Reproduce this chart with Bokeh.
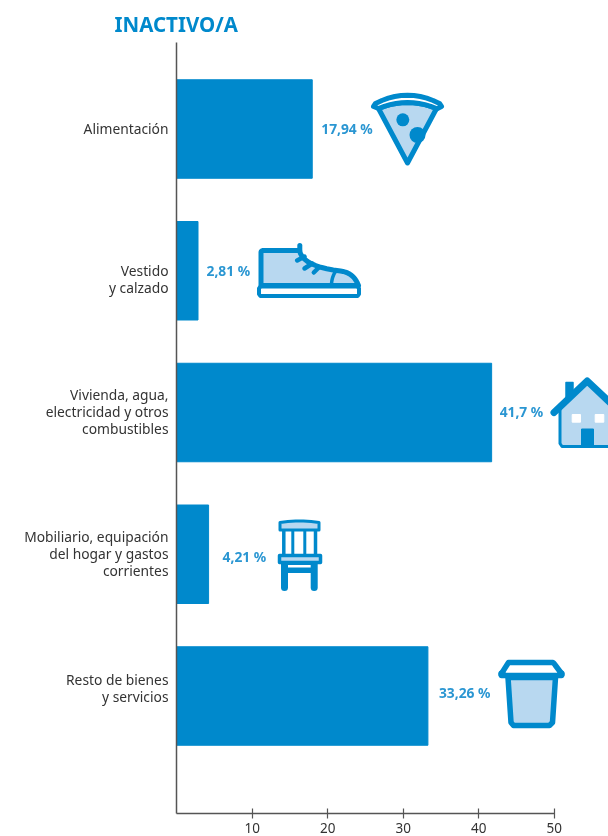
from bokeh.plotting import figure
from bokeh.models import Range1d, FixedTicker, ColumnDataSource
from bokeh.embed import file_html
from bokeh.resources import INLINE
from bokeh.core.properties import value

title = "INACTIVO/A"
categories = ["Alimentación", "Vestido\ny calzado", "Vivienda, agua,\nelectricidad y otros\ncombustibles",
              "Mobiliario, equipación\ndel hogar y gastos\ncorrientes", "Resto de bienes\ny servicios"]
values = [17.94, 2.81, 41.7, 4.21, 33.26]
value_labels = ["17,94 %", "2,81 %", "41,7 %", "4,21 %", "33,26 %"]
label_gaps = [9, 8.5, 8, 14, 11]
label_shift = [-1, 0, -1, 2.5, -3.5]
category_label_px = [128, 278.5, 411, 553, 687.5]
x_ticks = [10, 20, 30, 40, 50]

BLUE = "#0089cc"; TEXTBLUE = "#2a96d2"; LIGHT = "#b8d8f0"; GREY = "#555555"; DARK = "#333333"
FONT = "Noto Sans"

PX_PER_X = 7.55; X0 = 176.3; PX_PER_Y = 141.75; Y0 = 128.5
TOP = 42; BOTTOM = 813
def X(px): return (px - X0) / PX_PER_X
def Y(py): return (py - Y0) / PX_PER_Y

p = figure(width=608, height=836, output_backend="svg", toolbar_location=None,
           x_range=Range1d(X(176), X(608)), y_range=Range1d(Y(BOTTOM), Y(TOP)),
           min_border_left=176, min_border_right=0, min_border_top=TOP, min_border_bottom=836 - BOTTOM,
           outline_line_color=None, background_fill_color="white", border_fill_color="white")
p.styles = {"position": "fixed", "left": "0", "top": "0"}
p.grid.visible = False
p.title.text = title
p.title.align = "left"
p.title.offset = 114 - 176
p.title.standoff = 9
p.title.text_font = FONT
p.title.text_font_style = "bold"
p.title.text_font_size = "20.5px"
p.title.text_color = BLUE

src = ColumnDataSource(dict(y=list(range(5)), v=values, t=value_labels, g=label_gaps, s=label_shift))
p.hbar(y="y", right="v", left=0, height=98.5 / PX_PER_Y, color=BLUE, source=src)
p.text(x="v", y="y", text="t", x_offset="g", y_offset="s", text_font=value(FONT), text_font_style="bold",
       text_font_size="13.8px", text_color=TEXTBLUE, text_baseline="middle", source=src)

ax = p.xaxis[0]
ax.ticker = FixedTicker(ticks=x_ticks)
ax.bounds = (0, 50)
ax.axis_line_color = GREY; ax.axis_line_width = 1.5
ax.major_tick_line_color = GREY; ax.major_tick_line_width = 1.2
ax.major_tick_in = 5; ax.major_tick_out = 5; ax.minor_tick_line_color = None
ax.major_label_standoff = 4
ax.major_label_text_font = FONT; ax.major_label_text_font_size = "13.5px"; ax.major_label_text_color = DARK

cat_ticks = [round(Y(v), 4) for v in category_label_px]
ay = p.yaxis[0]
ay.ticker = FixedTicker(ticks=cat_ticks)
ay.major_label_overrides = {t: c for t, c in zip(cat_ticks, categories)}
ay.axis_line_color = GREY; ay.axis_line_width = 1.5
ay.major_tick_line_color = None; ay.minor_tick_line_color = None
ay.major_tick_in = 0; ay.major_tick_out = 0
ay.major_label_standoff = 8
ay.major_label_orientation = "horizontal"
ay.major_label_text_font = FONT; ay.major_label_text_font_size = "13.8px"; ay.major_label_text_color = DARK
ay.major_label_text_line_height = 0.92

def curve(a, c, b, n=10):
    return [((1-t)**2*a[0] + 2*t*(1-t)*c[0] + t*t*b[0], (1-t)**2*a[1] + 2*t*(1-t)*c[1] + t*t*b[1])
            for t in [i/n for i in range(n+1)]]
def shape(pts, fill=LIGHT, line=BLUE, w=4.5):
    p.patch([X(a) for a, b in pts], [Y(b) for a, b in pts], fill_color=fill, line_color=line,
            line_width=w, line_join="round")
def stroke(pts, w=4.5, cap="round"):
    p.line([X(a) for a, b in pts], [Y(b) for a, b in pts], line_color=BLUE, line_width=w,
           line_cap=cap, line_join="round")
def rect(x0, y0, x1, y1, fill=BLUE, line=None, w=1):
    shape([(x0, y0), (x1, y0), (x1, y1), (x0, y1)], fill, line if line else fill, w)
def disc(cx, cy, r):
    p.scatter([X(cx)], [Y(cy)], size=2 * r, color=BLUE, line_color=None, marker="circle")

# pizza
shape(curve((378, 108), (407, 96), (436, 108)) + [(407, 162.5)], w=5)
disc(402.3, 119.3, 6.5); disc(417, 134.5, 8)
shape(curve((375, 103), (407, 86.4), (439, 103)) + [(441, 106), (436, 108.5)]
      + curve((436, 108), (407, 96), (378, 108)) + [(373, 106)], fill="white", w=5)

# shoe
shape([(260.5, 285)] + curve((260.5, 252), (260.5, 250), (263, 250)) + curve((299, 250), (302, 266), (340, 270.5))
      + curve((340, 270.5), (353, 272), (358, 285)), w=5)
stroke([(299.3, 245), (299.3, 250)], 5)
stroke([(296.7, 260), (304, 256)], 4.5); stroke([(304, 268), (311.7, 263)], 4.5); stroke([(313.3, 272), (318.3, 267)], 4.5)
stroke(curve((335, 271), (331, 277), (331, 285)), 3.5)
shape([(260, 286), (357, 286), (358.5, 288), (358.5, 293.5), (357, 295.5), (260, 295.5), (258.5, 293.5), (258.5, 288)], fill="white", w=4)

# house
rect(565.5, 382, 572.5, 400, fill=BLUE, line=BLUE, w=1.5)
shape([(559.5, 406), (586.7, 381), (614, 406), (614, 443), (612, 446), (561.5, 446), (559.5, 443)], w=3)
rect(571.7, 414, 580, 421.7, fill="white")
rect(594.7, 414, 603.3, 421.7, fill="white")
rect(581, 428.5, 593, 446, fill=BLUE)
stroke([(553.5, 412), (586.7, 380.5), (620, 412)], 7)

# chair
stroke([(283.3, 530), (283.3, 554)], 3.5); stroke([(315, 530), (315, 554)], 3.5)
stroke([(292.3, 530), (292.3, 554)], 3); stroke([(304.3, 530), (304.3, 554)], 3)
shape(curve((279.5, 522), (299, 519), (318.5, 522)) + [(318.5, 529.5), (279.5, 529.5)], w=3)
rect(283, 562, 315, 564, fill=BLUE); rect(283, 567.5, 315, 572, fill=BLUE)
stroke([(284, 562), (284, 587)], 7); stroke([(313.7, 562), (313.7, 587)], 7)
shape([(279, 555), (320, 555), (320, 562), (279, 562)], w=3.5)

# cup
shape([(507.5, 677)] + [(510.5, 722), (513, 725), (549, 725), (552, 722), (555, 677)], w=5.5)
shape([(501, 673)] + curve((508, 662), (509, 662), (510, 662)) + curve((552, 662), (553, 662), (555, 665)) + [(561, 673), (561, 675), (501, 675)], fill="white", w=5.5)
disc(501.5, 673.5, 3.8); disc(560.5, 673.5, 3.8)

open("out.html", "w").write(file_html(p, INLINE))
